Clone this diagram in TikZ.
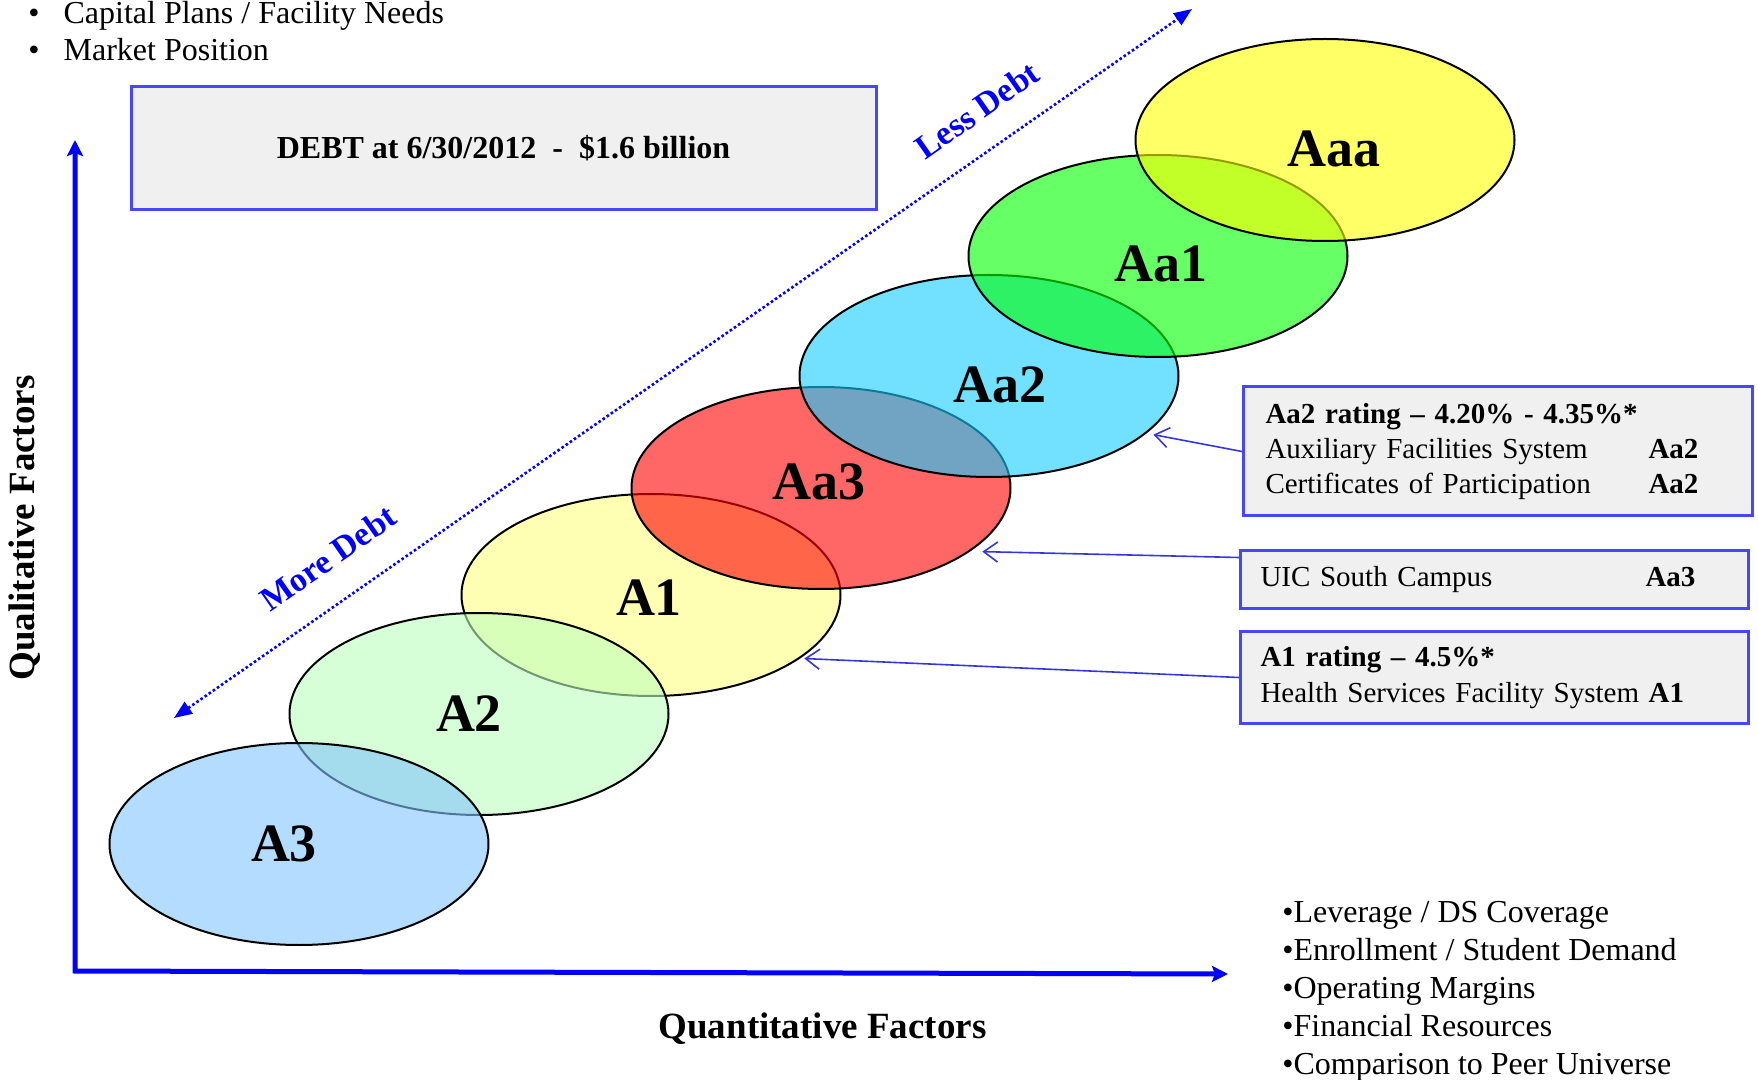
\documentclass[tikz,border=0pt]{standalone}
\usepackage{fontspec}
\setmainfont{Liberation Serif}
\usetikzlibrary{shapes.geometric,arrows.meta}
\definecolor{ovalAaa}{RGB}{255,255,0}
\definecolor{ovalAa1}{RGB}{0,255,0}
\definecolor{ovalAa2}{RGB}{20,205,255}
\definecolor{ovalAa3}{RGB}{255,0,0}
\definecolor{ovalA1}{RGB}{255,255,130}
\definecolor{ovalA2}{RGB}{188,255,188}
\definecolor{ovalA3}{RGB}{130,197,255}
\definecolor{boxgrey}{RGB}{240,240,240}
\definecolor{boxblue}{RGB}{70,70,255}
\definecolor{pointerblue}{RGB}{55,55,215}
\tikzset{
    oval/.style={ellipse,draw=black,line width=1pt,fill opacity=0.6,
        minimum width=189.5pt,minimum height=101pt,inner sep=0pt},
    ovaltext/.style={inner sep=0pt,font=\fontsize{27}{31}\selectfont\bfseries},
    infobox/.style={draw=boxblue,line width=1.5pt,fill=boxgrey,anchor=west,align=left,
        inner xsep=10pt,font=\fontsize{14.5}{17.7}\selectfont},
    pointer/.style={draw=pointerblue,line width=0.8pt,-{Straight Barb[length=7pt,width=10pt]}},
    axisline/.style={blue,line width=2.5pt,
        {Stealth[length=8pt,width=8pt,inset=1.5pt]}-{Stealth[length=8pt,width=8pt,inset=1.5pt]}},
    debtline/.style={blue,line width=1.3pt,dash pattern=on 1.3pt off 1.2pt,
        {Triangle[length=9pt,width=7pt]}-{Triangle[length=9pt,width=7pt]}},
    debtlabel/.style={blue,rotate=35,font=\fontsize{17}{20}\selectfont\bfseries},
    factorlabel/.style={font=\fontsize{18.5}{22}\selectfont\bfseries},
}
\newcommand\RatingOval[4]{%
    \node[oval,fill=#3,label={[ovaltext,shift={(#4)}]center:#1}] (#1) at (#2) {};
}

\begin{document}
\begin{tikzpicture}[x=0.5pt,y=-0.5pt]
    \useasboundingbox (0,0) rectangle (1758,1080);
    % factor lists
    \node[anchor=west,inner sep=0pt,font=\fontsize{16}{18.5}\selectfont] (QualList) at (28,35)
        {\begin{tabular}{@{}l@{\hspace{12pt}}l@{}}
         • & Capital Plans / Facility Needs\\
         • & Market Position
         \end{tabular}};
    \node[anchor=west,inner sep=0pt,align=left,font=\fontsize{16}{19}\selectfont] (QuantList) at (1282,991.5)
        {•Leverage / DS Coverage\\
         •Enrollment / Student Demand\\
         •Operating Margins\\
         •Financial Resources\\
         •Comparison to Peer Universe};
    \node[draw=boxblue,line width=1.5pt,fill=boxgrey,minimum width=372.5pt,minimum height=61.5pt,
        font=\fontsize{16}{19}\selectfont\bfseries] (DebtBox) at (503.5,148.5)
        {\raisebox{-1pt}{DEBT at 6/30/2012~~-~~\$1.6 billion}};
    % axes
    \coordinate (Origin) at (75,971);
    \coordinate (QualTop) at (75,140);
    \coordinate (QuantEnd) at (1228,974);
    \draw[axisline] (QualTop) -- (Origin) -- (QuantEnd);
    \node[factorlabel] (QuantLabel) at (822.5,1029) {Quantitative Factors};
    \node[factorlabel,rotate=90] (QualLabel) at (25,528) {Qualitative Factors};
    % debt direction
    \coordinate (MoreEnd) at (174,718);
    \coordinate (LessEnd) at (1192,9);
    \draw[debtline] (MoreEnd) -- (LessEnd);
    \node[debtlabel] (LessDebt) at (977,110) {Less Debt};
    \node[debtlabel] (MoreDebt) at (328,558) {More Debt};
    % rating ovals
    \RatingOval{A1}{651,595}{ovalA1}{-2,3}
    \RatingOval{A2}{479,714}{ovalA2}{-10,0}
    \RatingOval{A3}{299,844}{ovalA3}{-15,0}
    \RatingOval{Aa3}{821,488}{ovalAa3}{-2,-6}
    \RatingOval{Aa2}{989,376}{ovalAa2}{11,9}
    \RatingOval{Aa1}{1158,256}{ovalAa1}{3,8}
    \RatingOval{Aaa}{1325,140}{ovalAaa}{9,9}
    % issues
    \node[infobox,inner xsep=11pt,text width=232.5pt,minimum height=64.5pt] (Aa2Box) at (1242,451.5)
        {\textbf{Aa2 rating -- 4.20\% - 4.35\%*}\\
         \makebox[191.5pt][l]{Auxiliary Facilities System}\textbf{Aa2}\\
         \makebox[191.5pt][l]{Certificates of Participation}\textbf{Aa2}};
    \node[infobox,text width=234pt,minimum height=29pt] (Aa3Box) at (1239,580)
        {\makebox[192.5pt][l]{UIC South Campus}\textbf{Aa3}};
    \node[infobox,text width=234pt,minimum height=45.5pt] (A1Box) at (1239,677.5)
        {\textbf{A1 rating -- 4.5\%*}\\
         Health Services Facility System \textbf{A1}};
    \draw[pointer,shorten >=3.5pt] (Aa2Box.west) -- (Aa2.-20);
    \draw[pointer,shorten >=6pt] ([yshift=-4pt]Aa3Box.north west) -- (Aa3.-23);
    \draw[pointer,shorten >=2pt] (A1Box.west) -- (A1.-23);
\end{tikzpicture}
\end{document}
